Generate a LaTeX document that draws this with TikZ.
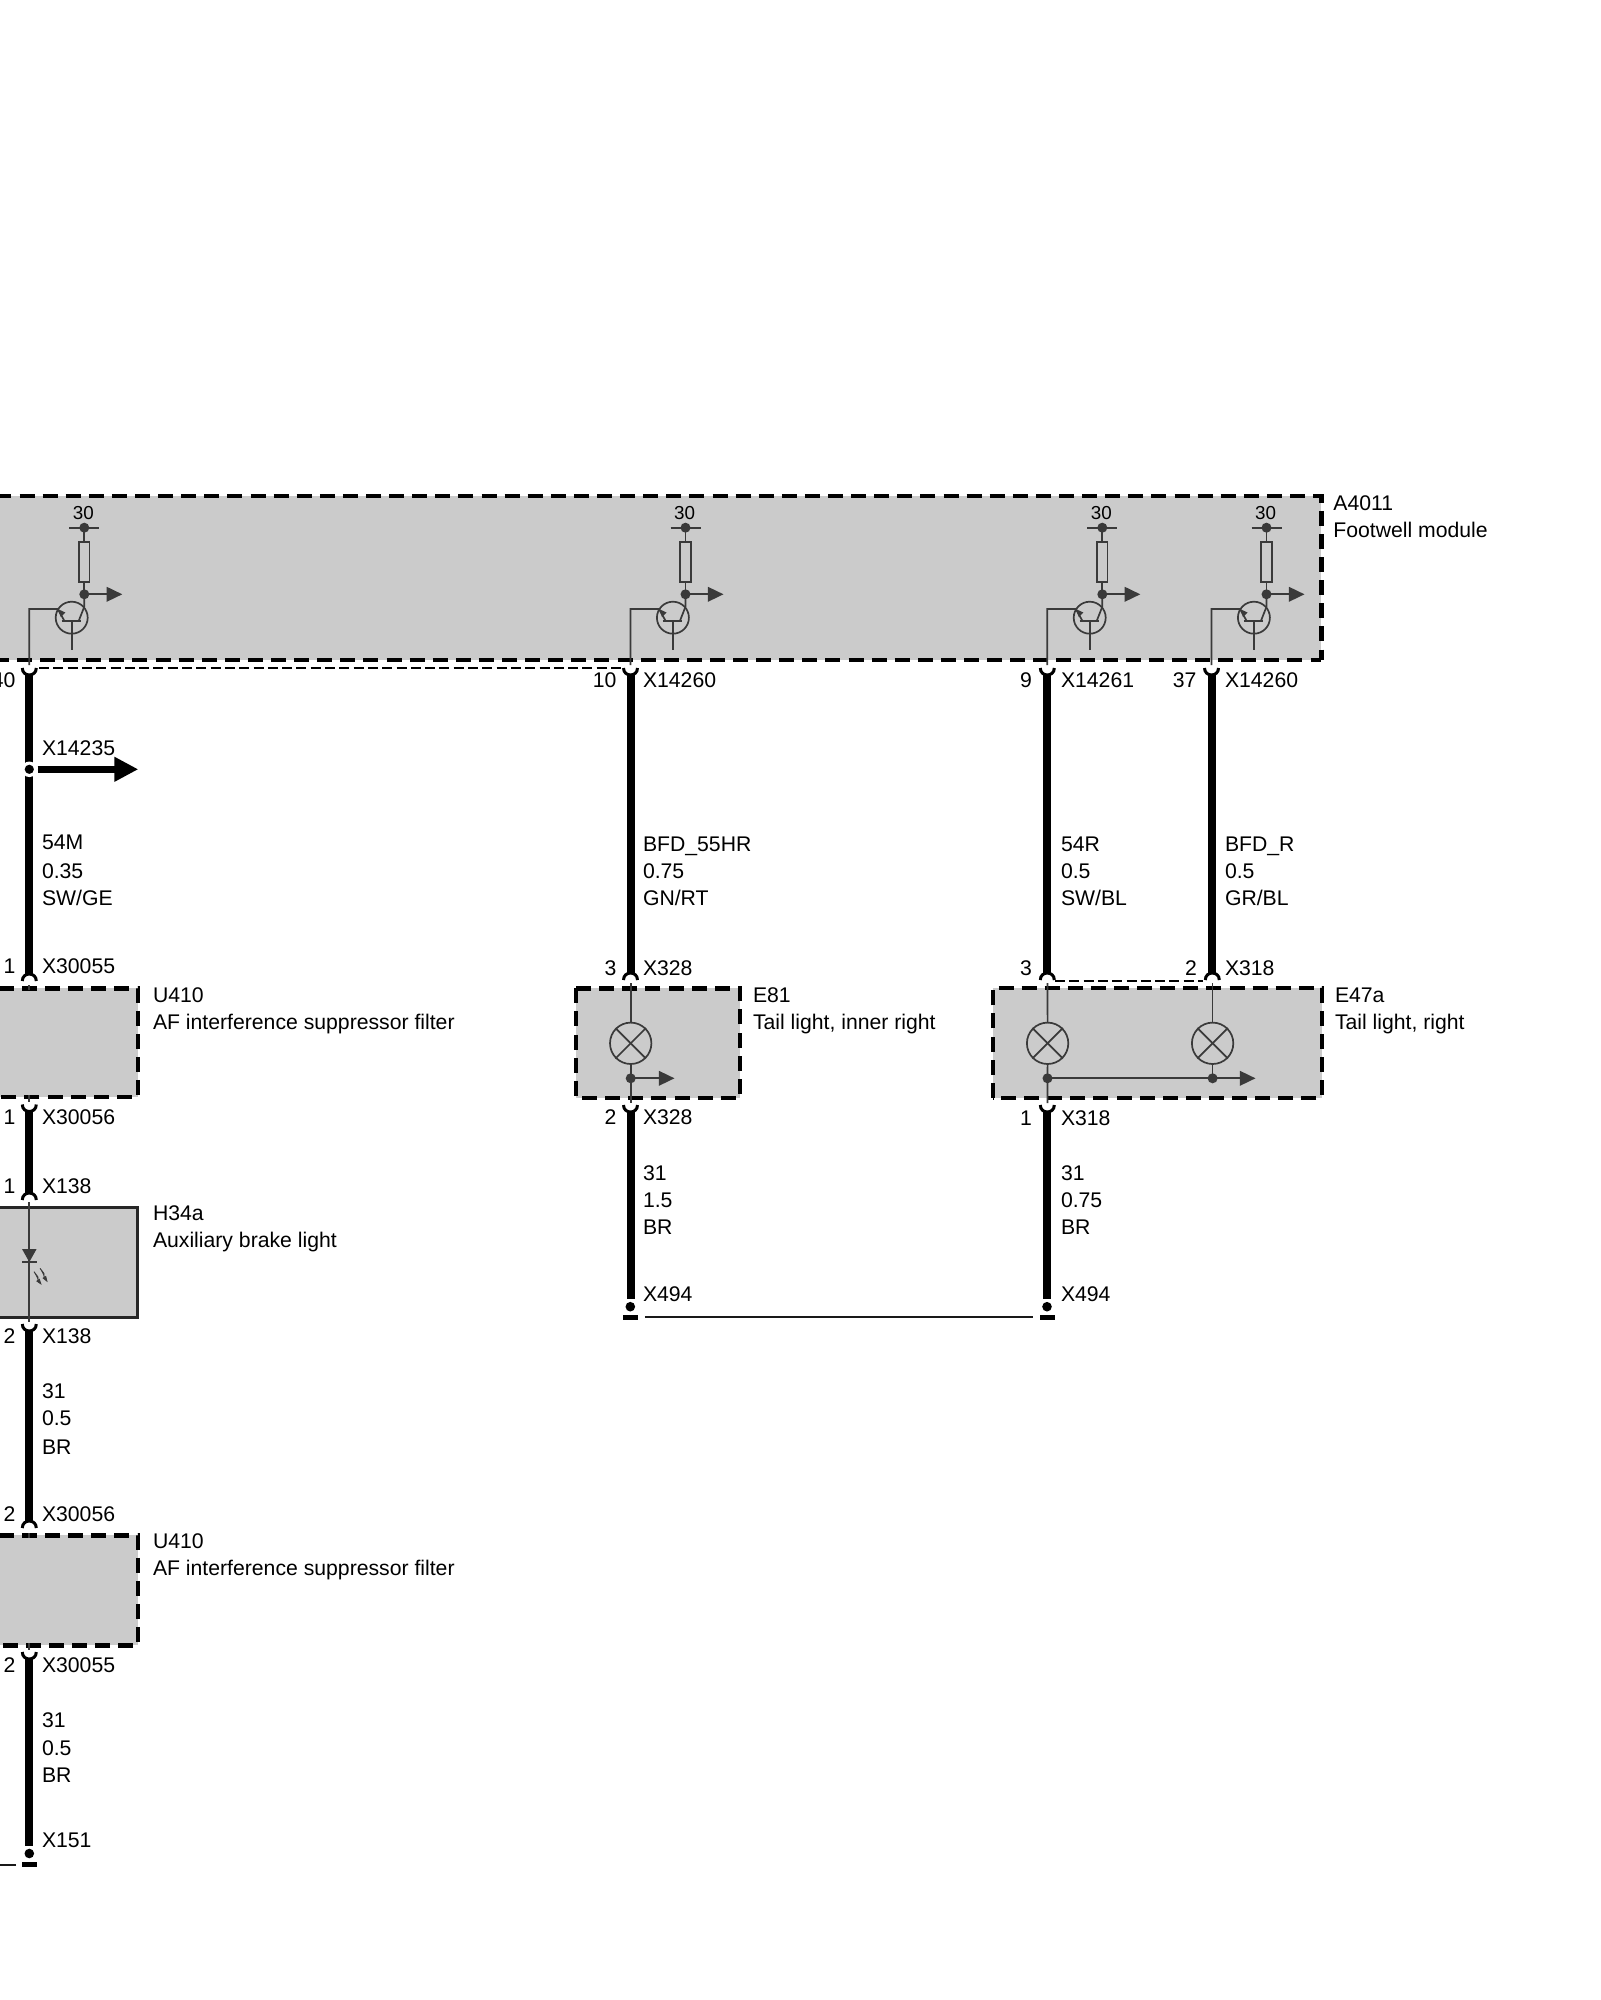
\documentclass[tikz,border=0pt]{standalone}
\usepackage{fontspec}
\setmainfont{Liberation Sans}
\usetikzlibrary{arrows.meta,calc}
\definecolor{boxgray}{HTML}{CBCBCB}
\definecolor{inkgray}{HTML}{3A3A3A}
\newcounter{lbl}
\tikzset{
  txt/.style={inner sep=0pt,outer sep=0pt,text=black,font=\fontsize{10.6}{12}\selectfont},
  boxfill/.style={fill=boxgray,draw=none,inner sep=0pt,outer sep=0pt,rectangle},
  dashline/.style={draw=black,line width=2.2pt,dash pattern=on 7.5pt off 4.05pt},
  solidline/.style={draw=black!85,line width=1.75pt},
  wire/.style={draw=black,line width=4pt},
  pinline/.style={draw=black,line width=1.5pt},
  thin dash/.style={draw=black,line width=1pt,dash pattern=on 5pt off 2.15pt},
  sym/.style={draw=inkgray,line width=0.85pt},
  dotnode/.style={circle,fill=inkgray,draw=none,inner sep=0pt,minimum size=5pt},
  lampnode/.style={circle,draw=inkgray,line width=0.85pt,inner sep=0pt,minimum size=20.7pt},
  resnode/.style={rectangle,draw=inkgray,line width=0.85pt,inner sep=0pt,minimum width=5.3pt,minimum height=20pt},
  tip/.style={-{Triangle[length=7.8pt,width=7.3pt]},draw=inkgray,fill=inkgray,line width=0.85pt},
  gnddot/.style={circle,fill=black,draw=none,inner sep=0pt,minimum size=4.8pt},
  gndbar/.style={rectangle,fill=black,draw=none,inner sep=0pt,minimum width=7.2pt,minimum height=2.2pt},
  gndline/.style={draw=black!90,line width=1pt},
  capup/.pic={\draw[pinline] (-7,0) .. controls (-7,-9.3) and (7,-9.3) .. (7,0);},
  cupdn/.pic={\draw[pinline] (-7,0) .. controls (-7,9.3) and (7,9.3) .. (7,0);},
}
\newcommand\LW[3]{\stepcounter{lbl}\node[txt,anchor=base west] (t\thelbl) at (#1,#2) {#3};}
\newcommand\LE[3]{\stepcounter{lbl}\node[txt,anchor=base east] (t\thelbl) at (#1,#2) {#3};}
\newcommand\Tr[2]{%
 \begin{scope}[shift={(#2+55,0)}]
  \node[dotnode] (#1top) at (0,527.7) {};
  \coordinate (#1bl) at (-15,527.7);
  \coordinate (#1br) at (15,527.7);
  \draw[sym] (#1bl) -- (#1br);
  \stepcounter{lbl}\node[txt,font=\fontsize{9.4}{11}\selectfont,anchor=base] (t\thelbl) at (-1,519) {30};
  \node[resnode] (#1res) at (0,562) {};
  \node[dotnode] (#1out) at (0,594.3) {};
  \coordinate (#1arr) at (38,594.3);
  \draw[tip] (#1out.center) -- (#1arr);
  \draw[sym] (#1top.center) -- (#1res.north);
  \draw[sym] (#1res.south) -- (#1out.center);
  \node[circle,draw=inkgray,line width=0.85pt,inner sep=0pt,minimum size=16pt] (#1tc) at (-12.6,617.7) {};
  \coordinate (#1bbl) at (-22.6,620.7);
  \coordinate (#1bbr) at (-3.3,620.7);
  \draw[sym] (#1bbl) -- (#1bbr);
  \coordinate (#1st) at (-12.6,650);
  \draw[sym] (#1tc.center |- #1bbl) -- (#1st);
  \coordinate (#1k) at (0,606.7);
  \draw[sym] (#1out.center) -- (#1k) -- (-5.5,620.7);
  \coordinate (#1e) at (-26.5,609);
  \coordinate (#1ew) at (-55,609);
  \coordinate (#1ep) at (-55,665);
  \draw[sym] (-20,620.7) -- (#1e) -- (#1ew) -- (#1ep);
  \fill[inkgray] (-26.5,609) -- (-19,612.5) -- (-23.5,617) -- cycle;
 \end{scope}}
\newcommand\Wl[7]{\LW{#1}{#2}{#5}\LW{#1}{#3}{#6}\LW{#1}{#4}{#7}}
\begin{document}
\begin{tikzpicture}[x=0.5pt,y=-0.5pt]
\clip (0,0) rectangle (1600,2000);
\fill[white] (0,0) rectangle (1600,2000);
% module boxes
\node[boxfill,minimum width=674pt,minimum height=82pt] (A) at (647.3,578) {};
\node[boxfill,minimum width=92.65pt,minimum height=54.4pt] (U1) at (45.35,1042.7) {};
\node[boxfill,minimum width=92.25pt,minimum height=55.2pt] (H) at (45.25,1262.5) {};
\node[boxfill,minimum width=92.65pt,minimum height=55pt] (U2) at (45.35,1590.3) {};
\node[boxfill,minimum width=81.9pt,minimum height=54.7pt] (E1) at (657.9,1043) {};
\node[boxfill,minimum width=164.65pt,minimum height=54.85pt] (E2) at (1157.35,1042.85) {};
\draw[dashline] (A.north west) -- (A.north east) -- (A.south east);
\coordinate (Abl) at (-6.2,660);
\draw[dashline] (Abl) -- (A.south east);
\draw[dashline] (U1.north west) -- (U1.north east) -- (U1.south east) -- (U1.south west);
\draw[dashline] (U2.north west) -- (U2.north east) -- (U2.south east) -- (U2.south west);
\draw[solidline] (H.north west) rectangle (H.south east);
\draw[dashline] (E1.north west) rectangle (E1.south east);
\draw[dashline] (E2.south west) rectangle (E2.north east);
% transistors
\Tr{a}{29.3}
\Tr{b}{630.5}
\Tr{c}{1047.3}
\Tr{d}{1211.5}
% left wire
\coordinate (w1a) at (29.3,668);
\coordinate (w1b) at (29.3,981);
\coordinate (w1c) at (29.3,1104.5);
\coordinate (w1d) at (29.3,1200);
\coordinate (w1e) at (29.3,1324);
\coordinate (w1f) at (29.3,1528);
\coordinate (w1g) at (29.3,1652);
\coordinate (w1h) at (29.3,1846);
\draw[wire] (29.3,675) -- (29.3,974);
\draw[wire] (29.3,1111) -- (29.3,1193);
\draw[wire] (29.3,1331) -- (29.3,1521);
\draw[wire] (29.3,1659) -- (w1h);
\foreach \c in {w1a,w1c,w1e,w1g} \pic at (\c) {cupdn};
\foreach \c in {w1b,w1d,w1f} \pic at (\c) {capup};
\node[circle,fill=white,draw=none,inner sep=0pt,minimum size=15.5pt/2*1] (juncring) at (29.3,769.3) {};
\node[gnddot,minimum size=4.6pt] (junc) at (29.3,769.3) {};
\coordinate (bigstart) at (37.7,769.3);
\coordinate (bigtip) at (138.3,769.3);
\draw[-{Triangle[length=12pt,width=11.7pt]},draw=black,fill=black,line width=3.6pt] (bigstart) -- (bigtip);
% thin lines at pins of the left module
\draw[sym] (29.3,985) -- (29.3,990);
\draw[sym] (29.3,1095) -- (29.3,1102);
\draw[sym] (29.3,1202) -- (29.3,1322);
\draw[sym] (29.3,1533) -- (29.3,1538);
\draw[sym] (29.3,1643) -- (29.3,1650);
% diode
\fill[inkgray] (22,1249) -- (36.6,1249) -- (29.3,1262) -- cycle;
\draw[draw=inkgray,line width=1pt] (22,1262) -- (36.6,1262);
\draw[-{Triangle[length=3.2pt,width=2pt]},draw=inkgray,fill=inkgray,line width=0.45pt] (34,1271.7) -- (38,1277) -- (38,1280) -- (41.7,1285);
\draw[-{Triangle[length=3.2pt,width=2pt]},draw=inkgray,fill=inkgray,line width=0.45pt] (40,1268.3) -- (44,1273.5) -- (44,1276.5) -- (47.7,1282.3);
% ground left
\node[gnddot] (g1) at (29.3,1853.5) {};
\node[gndbar] (g1b) at (29.5,1864.5) {};
\coordinate (g1l) at (16,1864.5);
\coordinate (g1m) at (-5,1864.5);
\draw[gndline] (g1l) -- (g1m);
% middle wire
\coordinate (w2a) at (630.5,668);
\coordinate (w2b) at (630.5,980);
\coordinate (w2c) at (630.5,1105);
\draw[wire] (630.5,675) -- (630.5,973);
\draw[wire] (630.5,1112) -- (630.5,1299);
\pic at (w2a) {cupdn};
\pic at (w2b) {capup};
\pic at (w2c) {cupdn};
\node[lampnode] (L1) at (630.7,1043.3) {};
\draw[sym] (L1.45) -- (L1.225);
\draw[sym] (L1.135) -- (L1.315);
\node[dotnode] (n1) at (630.7,1078.3) {};
\coordinate (n1a) at (674.5,1078.3);
\draw[tip] (n1.center) -- (n1a);
\draw[sym] (630.7,983) -- (L1.north);
\draw[sym] (L1.south) -- (n1.center) -- (630.7,1103);
\node[gnddot] (g2) at (630.3,1306.7) {};
\node[gndbar] (g2b) at (630.3,1317.3) {};
% right wires
\coordinate (w3a) at (1047.3,668);
\coordinate (w3b) at (1047.3,980);
\coordinate (w3c) at (1047.3,1105);
\coordinate (w4a) at (1211.5,668);
\coordinate (w4b) at (1212.3,980);
\draw[wire] (1047.3,675) -- (1047.3,973);
\draw[wire] (1047.3,1112) -- (1047.3,1299);
\draw[wire] (1211.5,675) -- (1211.5,973);
\foreach \c in {w3a,w3c,w4a} \pic at (\c) {cupdn};
\foreach \c in {w3b,w4b} \pic at (\c) {capup};
\node[lampnode] (L2) at (1047.6,1043.3) {};
\draw[sym] (L2.45) -- (L2.225);
\draw[sym] (L2.135) -- (L2.315);
\node[lampnode] (L3) at (1212.6,1043.3) {};
\draw[sym] (L3.45) -- (L3.225);
\draw[sym] (L3.135) -- (L3.315);
\node[dotnode] (n2) at (1047.5,1078.3) {};
\node[dotnode] (n3) at (1212.6,1078.3) {};
\coordinate (n3a) at (1255.5,1078.3);
\draw[sym] (n2.center) -- (n3.center);
\draw[tip] (n3.center) -- (n3a);
\draw[sym] (1047.5,983) -- (L2.north);
\draw[sym] (1212.6,983) -- (L3.north);
\draw[sym] (L2.south) -- (n2.center) -- (1047.5,1103);
\draw[sym] (L3.south) -- (n3.center);
\node[gnddot] (g3) at (1047,1306.7) {};
\node[gndbar] (g3b) at (1047.3,1317.3) {};
\draw[gndline] ($(g2b.east)+(7,0)$) -- ($(g3b.west)+(-7,0)$);
% dashed shared-connector lines
\coordinate (d1a) at (39,667.5);
\coordinate (d1b) at (621,667.5);
\draw[thin dash] (d1a) -- (d1b);
\coordinate (d2a) at (1055,981);
\coordinate (d2b) at (1203,981);
\draw[thin dash] (d2a) -- (d2b);
% labels
\LW{1333.4}{510}{A4011}
\LW{1333.4}{537}{Footwell module}
\LE{15.5}{687.5}{40}
\LE{616.5}{687.5}{10}\LW{643}{687.5}{X14260}
\LE{1032}{687.5}{9}\LW{1061}{687.5}{X14261}
\LE{1196.5}{687.5}{37}\LW{1225}{687.5}{X14260}
\LW{42}{755}{X14235}
\Wl{42}{849.5}{878}{905.5}{54M}{0.35}{SW/GE}
\Wl{643}{851}{878}{905.5}{BFD\_55HR}{0.75}{GN/RT}
\Wl{1061}{851}{878}{905.5}{54R}{0.5}{SW/BL}
\Wl{1225}{851}{878}{905.5}{BFD\_R}{0.5}{GR/BL}
\LE{15.5}{973.5}{1}\LW{42}{973.5}{X30055}
\LW{153}{1002.8}{U410}\LW{153}{1029.6}{AF interference suppressor filter}
\LE{15.5}{1124}{1}\LW{42}{1124}{X30056}
\LE{15.5}{1193}{1}\LW{42}{1193}{X138}
\LW{153}{1220}{H34a}\LW{153}{1247.8}{Auxiliary brake light}
\LE{15.5}{1343.5}{2}\LW{42}{1343.5}{X138}
\Wl{42}{1398}{1425}{1454.5}{31}{0.5}{BR}
\LE{15.5}{1521}{2}\LW{42}{1521}{X30056}
\LW{153}{1548}{U410}\LW{153}{1575.7}{AF interference suppressor filter}
\LE{15.5}{1672.7}{2}\LW{42}{1672.7}{X30055}
\Wl{42}{1727}{1755.6}{1782.4}{31}{0.5}{BR}
\LW{42}{1847.5}{X151}
\LE{616.5}{975}{3}\LW{643}{975}{X328}
\LW{753}{1002.8}{E81}\LW{753}{1029.6}{Tail light, inner right}
\LE{616.5}{1124}{2}\LW{643}{1124}{X328}
\Wl{643}{1180}{1207}{1234}{31}{1.5}{BR}
\LW{643}{1301.4}{X494}
\LE{1032}{975}{3}\LE{1197}{975}{2}\LW{1225}{975}{X318}
\LW{1335}{1002.8}{E47a}\LW{1335}{1029.6}{Tail light, right}
\LE{1032}{1125}{1}\LW{1061}{1125}{X318}
\Wl{1061}{1180}{1207}{1234}{31}{0.75}{BR}
\LW{1061}{1301.4}{X494}
\end{tikzpicture}
\end{document}
